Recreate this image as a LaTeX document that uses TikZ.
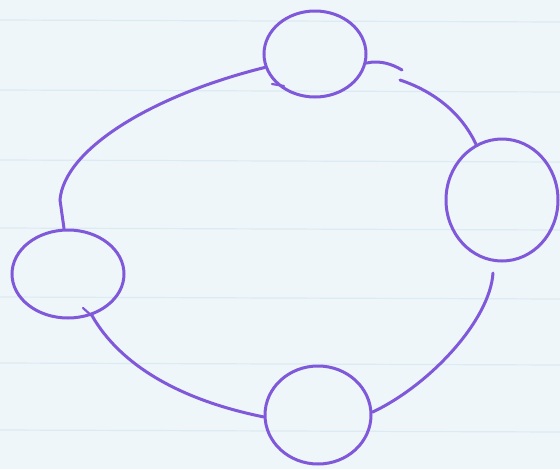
\documentclass[tikz,border=0pt]{standalone}
\usetikzlibrary{shapes.geometric}
\definecolor{paper}{RGB}{238,246,250}
\definecolor{rule}{RGB}{220,234,242}
\definecolor{ink}{RGB}{128,88,218}
\tikzset{
  blob/.style={ellipse, draw=ink, line width=3pt, inner sep=0pt},
  link/.style={draw=ink, line width=3pt, line cap=round},
  paperline/.style={draw=rule, line width=1.2pt}
}
\begin{document}
\begin{tikzpicture}[x=1pt,y=-1pt]
\fill[paper] (0,0) rectangle (560,469);
\useasboundingbox (0,0) rectangle (560,469);
\foreach \yy in {20,90,160,228,297,363,430} \draw[paperline] (0,\yy) -- (560,\yy+2);
% circles
\node[blob, minimum width=102pt, minimum height=86pt] (top) at (315,54) {};
\node[blob, minimum width=112pt, minimum height=122pt] (right) at (502,200) {};
\node[blob, minimum width=106pt, minimum height=98pt] (bottom) at (318,415) {};
\node[blob, minimum width=112pt, minimum height=88pt] (left) at (68,274) {};
% free ends
\coordinate (tr1) at (402,70);
\coordinate (tr2) at (400,80);
\coordinate (rb) at (493,273);
\coordinate (lt) at (60,200);
% connectors
\draw[link] (left.95) -- (lt) .. controls (64,150) and (150,96) .. (top.195);
\draw[link] (top.350) .. controls (380,60) and (392,64) .. (tr1);
\draw[link] (tr2) .. controls (430,90) and (460,110) .. (right.115);
\draw[link] (rb) .. controls (490,320) and (430,385) .. (bottom.3);
\draw[link] (bottom.182) .. controls (180,400) and (120,365) .. (left.300);
% small hand-drawn hooks
\draw[link, line width=2.2pt] (272,84) -- (284,86);
\draw[link, line width=2.2pt] (83,308) -- (92,316);
\end{tikzpicture}
\end{document}
